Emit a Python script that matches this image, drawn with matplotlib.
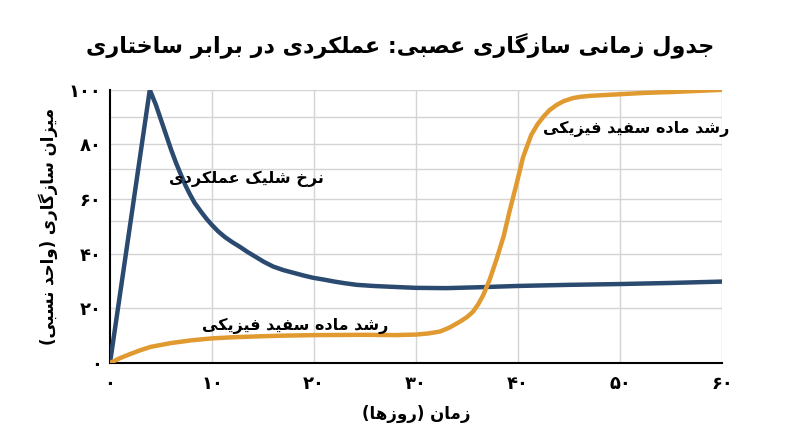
import matplotlib
matplotlib.use("Agg")
import matplotlib.pyplot as plt

# --- data ---
days_firing = [0, 3.9, 4.5, 5, 5.5, 6, 6.5, 7, 7.4, 7.8, 8.3, 9, 9.5, 10, 10.6, 11.3,
               12, 12.7, 13.5, 14.3, 15.1, 16, 17, 18, 19, 19.9, 21, 22, 23,
               24.2, 25.8, 27.5, 30, 33, 36, 40, 45, 50, 55, 60]
firing_rate = [0, 100, 94.5, 89, 83.5, 78, 73, 68.5, 65, 62, 58.6, 55, 52.6, 50.5,
               48.2, 46, 44.2, 42.6, 40.6, 38.8, 37, 35.3, 34, 33, 32, 31.2, 30.5,
               29.8, 29.2, 28.6, 28.2, 27.9, 27.5, 27.4, 27.7, 28.2, 28.6, 28.9,
               29.3, 29.8]

days_wm = [0, 1, 2, 3, 4, 6, 8, 10, 12, 15, 17, 20, 25, 28, 30, 31.2, 32.35, 33.3,
           34.3, 35, 35.6, 36.1, 36.6, 37.25, 37.9, 38.6, 39.2, 39.9, 40.5, 41.3,
           41.9, 42.5, 43.1, 43.8, 44.5, 45.4, 46.2, 47.1, 48.5, 50, 52.5, 55, 57.5, 60]
white_matter = [0, 1.8, 3.3, 4.7, 5.9, 7.3, 8.3, 9, 9.4, 9.8, 10, 10.2, 10.3, 10.2,
                10.4, 10.8, 11.5, 13, 15.1, 16.8, 18.8, 21.5, 24.9, 30.8, 38, 46.5,
                56, 66.2, 75.4, 83.5, 87.3, 90.2, 92.6, 94.5, 95.9, 97, 97.5, 97.8,
                98.1, 98.4, 98.9, 99.2, 99.6, 100]

x_ticks = [0, 10, 20, 30, 40, 50, 60]
y_ticks = [0, 20, 40, 60, 80, 100]
x_grid = [10, 20, 30, 40, 50, 60]
y_grid = [20, 40, 52, 60, 71, 80, 90, 100]

title = "جدول زمانی سازگاری عصبی: عملکردی در برابر ساختاری"
x_label = "زمان (روزها)"
y_label = "میزان سازگاری (واحد نسبی)"
label_firing = "نرخ شلیک عملکردی"
label_wm = "رشد ماده سفید فیزیکی"

# --- tiny arabic shaper (no arabic_reshaper in sandbox) ---
# char: (isolated, final, initial, medial); None for initial/medial = does not join forward
FORMS = {
    "\u0627": (0xFE8D, 0xFE8E, None, None),
    "\u0628": (0xFE8F, 0xFE90, 0xFE91, 0xFE92),
    "\u062A": (0xFE95, 0xFE96, 0xFE97, 0xFE98),
    "\u062C": (0xFE9D, 0xFE9E, 0xFE9F, 0xFEA0),
    "\u062D": (0xFEA1, 0xFEA2, 0xFEA3, 0xFEA4),
    "\u062E": (0xFEA5, 0xFEA6, 0xFEA7, 0xFEA8),
    "\u062F": (0xFEA9, 0xFEAA, None, None),
    "\u0631": (0xFEAD, 0xFEAE, None, None),
    "\u0632": (0xFEAF, 0xFEB0, None, None),
    "\u0633": (0xFEB1, 0xFEB2, 0xFEB3, 0xFEB4),
    "\u0634": (0xFEB5, 0xFEB6, 0xFEB7, 0xFEB8),
    "\u0635": (0xFEB9, 0xFEBA, 0xFEBB, 0xFEBC),
    "\u0639": (0xFEC9, 0xFECA, 0xFECB, 0xFECC),
    "\u0641": (0xFED1, 0xFED2, 0xFED3, 0xFED4),
    "\u0644": (0xFEDD, 0xFEDE, 0xFEDF, 0xFEE0),
    "\u0645": (0xFEE1, 0xFEE2, 0xFEE3, 0xFEE4),
    "\u0646": (0xFEE5, 0xFEE6, 0xFEE7, 0xFEE8),
    "\u0647": (0xFEE9, 0xFEEA, 0xFEEB, 0xFEEC),
    "\u0648": (0xFEED, 0xFEEE, None, None),
    "\u06A9": (0xFB8E, 0xFB8F, 0xFB90, 0xFB91),
    "\u06AF": (0xFB92, 0xFB93, 0xFB94, 0xFB95),
    "\u06CC": (0xFBFC, 0xFBFD, 0xFBFE, 0xFBFF),
}
MIRROR = {"(": ")", ")": "("}


def shape(text):
    out = []
    n = len(text)
    for i, ch in enumerate(text):
        if ch not in FORMS:
            out.append(MIRROR.get(ch, ch))
            continue
        prev = text[i - 1] if i > 0 else ""
        nxt = text[i + 1] if i + 1 < n else ""
        join_prev = prev in FORMS and FORMS[prev][2] is not None
        join_next = nxt in FORMS and FORMS[ch][2] is not None
        iso, fin, ini, med = FORMS[ch]
        if join_prev and join_next:
            code = med
        elif join_prev:
            code = fin
        elif join_next:
            code = ini
        else:
            code = iso
        out.append(chr(code))
    return "".join(reversed(out))


def fa_num(v):
    return str(v).translate(str.maketrans("0123456789", "۰۱۲۳۴۵۶۷۸۹"))


plt.rcParams["font.family"] = ["DejaVu Sans"]
plt.rcParams["font.weight"] = "bold"

navy = "#2b4a70"
gold = "#e09a30"

fig = plt.figure(figsize=(8, 4.47), dpi=100)
ax = fig.add_axes([0.1375, 0.188, 0.765, 0.611])

for g in x_grid:
    ax.axvline(g, color="#d4d4d4", lw=1, zorder=0)
for g in y_grid:
    ax.axhline(g, color="#d4d4d4", lw=1, zorder=0)

ax.plot(days_firing, firing_rate, color=navy, lw=3.2, solid_capstyle="round",
        solid_joinstyle="round", zorder=3)
ax.plot(days_wm, white_matter, color=gold, lw=3.2, solid_capstyle="round",
        solid_joinstyle="round", zorder=3)

ax.set_xlim(0, 60)
ax.set_ylim(0, 100)
ax.set_xticks(x_ticks)
ax.set_xticklabels([fa_num(t) for t in x_ticks])
ax.set_yticks(y_ticks)
ax.set_yticklabels([fa_num(t) for t in y_ticks])
ax.tick_params(length=0, labelsize=13)
ax.tick_params(axis="x", pad=9)
ax.tick_params(axis="y", pad=6)
for t in ax.get_xticklabels() + ax.get_yticklabels():
    t.set_fontweight("bold")

for s in ["top", "right"]:
    ax.spines[s].set_visible(False)
for s in ["left", "bottom"]:
    ax.spines[s].set_color("black")
    ax.spines[s].set_linewidth(1.5)

ax.text(13.4, 67.5, shape(label_firing), fontsize=11.5, fontweight="bold", ha="center", va="center")
ax.text(18.2, 13.7, shape(label_wm), fontsize=11.5, fontweight="bold", ha="center", va="center")
ax.text(51.6, 85.7, shape(label_wm), fontsize=11.5, fontweight="bold", ha="center", va="center")

ax.set_xlabel(shape(x_label), fontsize=12, fontweight="bold", labelpad=8)
ax.set_ylabel(shape(y_label), fontsize=12, fontweight="bold", labelpad=8)
fig.text(0.5, 0.9, shape(title), fontsize=16, fontweight="bold", ha="center", va="center")

fig.savefig("out.png", dpi=100, facecolor="white")
